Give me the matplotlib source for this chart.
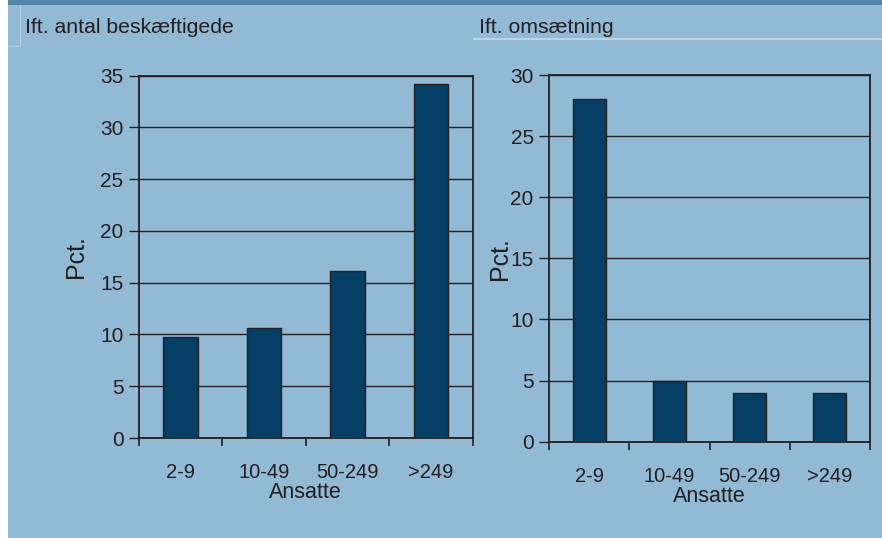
import matplotlib
matplotlib.use("Agg")
import matplotlib.pyplot as plt
import numpy as np
from matplotlib.patches import Rectangle
from matplotlib.lines import Line2D

# Data
categories = ["2-9", "10-49", "50-249", ">249"]
employees_pct = [9.8, 10.6, 16.1, 34.2]
turnover_pct = [28.0, 5.0, 4.0, 4.0]
left_yticks = [0, 5, 10, 15, 20, 25, 30, 35]
right_yticks = [0, 5, 10, 15, 20, 25, 30]
left_title = "Ift. antal beskæftigede"
right_title = "Ift. omsætning"
ylabel = "Pct."
xlabel = "Ansatte"

BG = "#93bad5"
BAND = "#5585a8"
BAR = "#063f66"
INK = "#231f20"

plt.rcParams["font.family"] = ["Liberation Sans", "DejaVu Sans"]

fig = plt.figure(figsize=(8.82, 5.38), dpi=100)
fig.patch.set_facecolor("white")

W, H = 882, 538
def fx(px):
    return px / W
def fy(py):
    return 1 - py / H

# panel background and top band
fig.add_artist(Rectangle((fx(8), 0), 1 - fx(8), fy(5), transform=fig.transFigure,
                         facecolor=BG, edgecolor="none", zorder=-10))
fig.add_artist(Rectangle((fx(8), fy(5)), 1 - fx(8), 1 - fy(5), transform=fig.transFigure,
                         facecolor=BAND, edgecolor="none", zorder=-10))
# thin frame accents
fig.add_artist(Line2D([fx(20), fx(20)], [fy(5), fy(46)], transform=fig.transFigure,
                      color="#b2cde0", lw=0.8))
fig.add_artist(Line2D([fx(8), fx(20)], [fy(46), fy(46)], transform=fig.transFigure,
                      color="#b2cde0", lw=0.8))
fig.add_artist(Line2D([fx(474), 1], [fy(38.5), fy(38.5)], transform=fig.transFigure,
                      color="#c6d9e7", lw=1.2))

fig.text(fx(25), fy(33), left_title, fontsize=15.3, color=INK, ha="left", va="baseline")
fig.text(fx(479), fy(33), right_title, fontsize=15.3, color=INK, ha="left", va="baseline")


def draw_panel(rect, values, yticks, ylab_px):
    ax = fig.add_axes(rect)
    ax.set_facecolor(BG)
    x = np.arange(len(categories))
    ax.bar(x, values, width=0.41, color=BAR, edgecolor=INK, linewidth=1.0, zorder=3)
    ax.set_xlim(-0.5, len(categories) - 0.5)
    ax.set_ylim(yticks[0], yticks[-1])
    ax.set_yticks(yticks)
    ax.yaxis.grid(True, color=INK, linewidth=1.0, zorder=0)
    ax.set_axisbelow(True)
    # category boundaries as major ticks, labels at centres
    ax.set_xticks(np.arange(len(categories) + 1) - 0.5)
    ax.set_xticklabels([])
    ax.set_xticks(x, minor=True)
    ax.set_xticklabels(categories, minor=True, fontsize=14.5, color=INK)
    ax.tick_params(axis="x", which="minor", length=0, pad=18)
    ax.tick_params(axis="x", which="major", length=6, width=1.2, color=INK, direction="out")
    ax.tick_params(axis="y", length=7, width=1.0, color=INK, labelsize=15,
                   labelcolor=INK, pad=4)
    for s in ax.spines.values():
        s.set_color(INK)
        s.set_linewidth(1.3)
    ax.set_xlabel(xlabel, fontsize=15.5, color=INK, labelpad=0)
    ax.set_ylabel(ylabel, fontsize=18, color=INK, va="center")
    ax_left_px = rect[0] * W
    ax.yaxis.set_label_coords((ylab_px - ax_left_px) / (rect[2] * W), 0.5)
    return ax


draw_panel([fx(138.7), fy(438), fx(472.7) - fx(138.7), fy(75.7) - fy(438)],
           employees_pct, left_yticks, 76)
draw_panel([fx(549), fy(441.7), fx(870) - fx(549), fy(75) - fy(441.7)],
           turnover_pct, right_yticks, 500)

fig.savefig("out.png", dpi=100, facecolor=fig.get_facecolor())
